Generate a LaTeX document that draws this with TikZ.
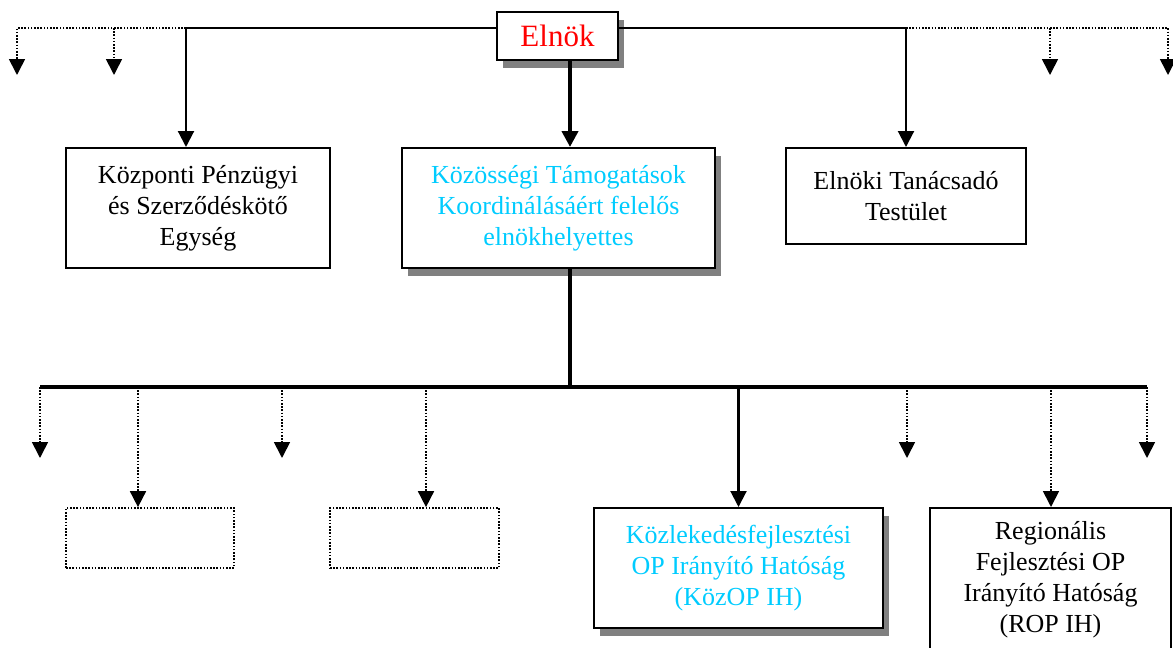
\documentclass[tikz,border=0pt]{standalone}
\usepackage{fontspec}
\setmainfont{Liberation Serif}
\usetikzlibrary{arrows.meta,shadows}
\definecolor{skyb}{RGB}{0,204,255}
\definecolor{shadowgray}{RGB}{128,128,128}
\begin{document}
\begin{tikzpicture}[x=0.5pt,y=-0.5pt,
  box/.style={draw=black, line width=1pt, fill=white, inner sep=0pt, align=center, font=\fontsize{13}{15.5}\selectfont},
  shbox/.style={box, drop shadow={shadow xshift=3pt, shadow yshift=-4pt, fill=shadowgray, opacity=1}},
  dotbox/.style={draw=black, line width=0.85pt, dash pattern=on 0.8pt off 0.8pt, inner sep=0pt},
  arrowtip/.style={-{Triangle[width=8pt,length=8pt]}},
  thinln/.style={line width=1.05pt},
  thickln/.style={line width=2.1pt},
  dotln/.style={line width=0.85pt, dash pattern=on 0.8pt off 0.8pt},
]
\useasboundingbox (0,0) rectangle (1173,648);
\clip (0,0) rectangle (1173,648);

% nodes
\node[shbox, minimum width=60.5pt, minimum height=24pt, font=\fontsize{15.5}{18}\selectfont, text=red] (elnok) at (557.5,36) {\raisebox{-2.5pt}{Elnök}};
\node[box, minimum width=132pt, minimum height=60pt] (b1) at (198,208) {Központi Pénzügyi\\és Szerződéskötő\\Egység};
\node[shbox, minimum width=156.5pt, minimum height=60pt, text=skyb] (b2) at (558.5,208) {Közösségi Támogatások\\Koordinálásáért felelős\\elnökhelyettes};
\node[box, minimum width=120pt, minimum height=48pt] (b3) at (906,196) {Elnöki Tanácsadó\\Testület};
\node[dotbox, minimum width=84pt, minimum height=30pt] (d1) at (150,538) {};
\node[dotbox, minimum width=84.5pt, minimum height=30pt] (d2) at (414.5,538) {};
\node[shbox, minimum width=144.5pt, minimum height=60pt, text=skyb] (kozop) at (738.5,568) {Közlekedésfejlesztési\\OP Irányító Hatóság\\(KözOP IH)};
\node[box, minimum width=120.5pt, minimum height=72pt] (rop) at (1050.5,580) {Regionális\\Fejlesztési OP\\Irányító Hatóság\\(ROP IH)};

% coordinates
\coordinate (yt) at (0,28);
\coordinate (yb) at (0,387);
\coordinate (xa) at (186,0);
\coordinate (xm) at (570,0);
\coordinate (tl1) at (17,75);
\coordinate (tl2) at (114,75);
\coordinate (tr1) at (1050,75);
\coordinate (tr2) at (1168,75);
\coordinate (bl) at (40,387);
\coordinate (br) at (1147,387);
\coordinate (e1) at (40,458);
\coordinate (e2) at (282,458);
\coordinate (e3) at (907,458);
\coordinate (e4) at (1147,458);
\coordinate (x1) at (138,0);
\coordinate (x2) at (426,0);
\coordinate (x4) at (1051,0);

% top connectors
\draw[thinln, arrowtip] (elnok.west |- yt) -| (b1.north -| xa);
\draw[dotln, arrowtip] (xa |- yt) -| (tl1);
\draw[dotln, arrowtip] (tl2 |- yt) -- (tl2);
\draw[thinln, arrowtip] (elnok.east |- yt) -| (b3.north);
\draw[dotln, arrowtip] (b3.north |- yt) -| (tr2);
\draw[dotln, arrowtip] (tr1 |- yt) -- (tr1);
\draw[thickln, arrowtip] (elnok.south -| xm) -- (b2.north -| xm);

% bottom bus
\draw[thickln] (b2.south -| xm) -- (xm |- yb);
\draw[thickln] (bl) -- (br);
\draw[dotln, arrowtip] (e1 |- yb) -- (e1);
\draw[dotln, arrowtip] (x1 |- yb) -- (d1.north -| x1);
\draw[dotln, arrowtip] (e2 |- yb) -- (e2);
\draw[dotln, arrowtip] (x2 |- yb) -- (d2.north -| x2);
\draw[thinln, arrowtip] (kozop.north |- yb) -- (kozop.north);
\draw[dotln, arrowtip] (e3 |- yb) -- (e3);
\draw[dotln, arrowtip] (x4 |- yb) -- (rop.north -| x4);
\draw[dotln, arrowtip] (e4 |- yb) -- (e4);
\end{tikzpicture}
\end{document}
